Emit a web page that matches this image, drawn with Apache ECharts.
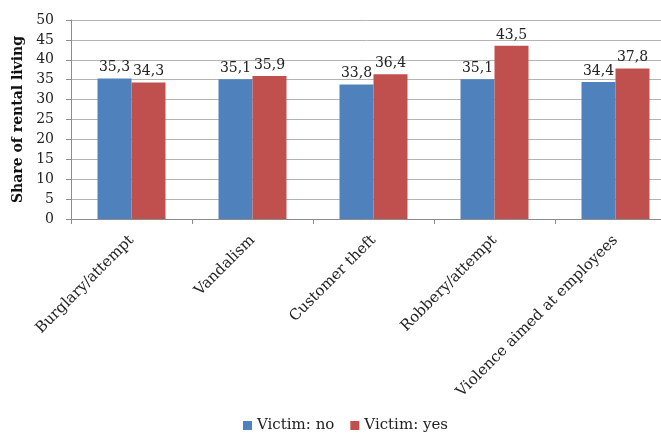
<!DOCTYPE html>
<html>
<head>
    <meta charset="utf-8">
    <script src="https://cdn.jsdelivr.net/npm/echarts@6/dist/echarts.min.js"></script>
</head>
<body>
    <div id="main"></div>
    <style>
html,body { margin: 0; padding: 0; background: #fff; }
#main { width: 661px; height: 436px; }
    </style>
    <script type="text/javascript">
var categories = ['Burglary/attempt', 'Vandalism', 'Customer theft', 'Robbery/attempt', 'Violence aimed at employees'];
var victimNo = [35.3, 35.1, 33.8, 35.1, 34.4];
var victimYes = [34.3, 35.9, 36.4, 43.5, 37.8];
var seriesNames = ['Victim: no', 'Victim: yes'];

var serif = 'DejaVu Serif';

function commaLabel(p) {
    return String(p.value).replace('.', ',');
}

function barSeries(name, data, color) {
    return {
        name: name,
        type: 'bar',
        data: data,
        barWidth: 34,
        barGap: '0%',
        itemStyle: { color: color },
        label: {
            show: true,
            position: 'top',
            distance: 4,
            formatter: commaLabel,
            fontFamily: serif,
            fontSize: 14,
            color: '#222'
        }
    };
}

var option = {
    animation: false,
    backgroundColor: '#fff',
    grid: {
        left: 71,
        top: 20,
        right: -15,
        bottom: 217,
        outerBoundsMode: 'none',
        containLabel: false
    },
    legend: {
        bottom: -2,
        left: 238,
        itemWidth: 9,
        itemHeight: 9,
        itemGap: 16,
        icon: 'rect',
        textStyle: { fontFamily: serif, fontSize: 15, color: '#222' },
        data: seriesNames
    },
    xAxis: {
        type: 'category',
        data: categories,
        axisLine: { lineStyle: { color: '#8c8c8c' } },
        axisTick: { show: true, length: 5, lineStyle: { color: '#8c8c8c' } },
        axisLabel: {
            rotate: 45,
            margin: 19,
            interval: 0,
            fontFamily: serif,
            fontSize: 15,
            color: '#222'
        }
    },
    yAxis: {
        type: 'value',
        min: 0,
        max: 50,
        interval: 5,
        name: 'Share of rental living',
        nameLocation: 'middle',
        nameGap: 45,
        nameTextStyle: { fontFamily: serif, fontSize: 14, fontWeight: 'bold', color: '#111' },
        axisLine: { show: true, lineStyle: { color: '#8c8c8c' } },
        axisTick: { show: true, length: 5, lineStyle: { color: '#8c8c8c' } },
        axisLabel: { fontFamily: serif, fontSize: 14, color: '#222', margin: 17 },
        splitLine: { lineStyle: { color: '#b4b4b4' } }
    },
    series: [
        barSeries(seriesNames[0], victimNo, '#4f81bd'),
        barSeries(seriesNames[1], victimYes, '#c0504d')
    ]
};

var chart = echarts.init(document.getElementById('main'));
chart.setOption(option);
    </script>
</body>
</html>
